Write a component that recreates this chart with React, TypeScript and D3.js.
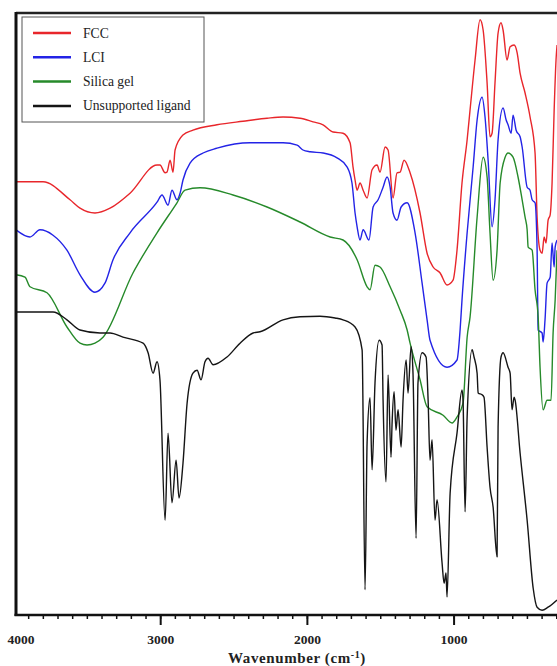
import React from "react";
import * as d3 from "d3";

// [wavenumber (cm-1), transmittance (a.u.)]
const fccData: [number, number][] = [
  [3986, 72.2], [3802, 72.2], [3618, 69.2], [3550, 67.8], [3448, 67.0], [3345, 67.8], [3209, 70.3],
  [3025, 75.0], [3005, 75.0], [2970, 73.7], [2957, 73.8], [2936, 75.8], [2916, 73.8], [2902, 77.5],
  [2848, 80.0], [2780, 80.8], [2616, 81.7], [2439, 82.3], [2275, 82.8], [2166, 83.0], [2050, 82.8],
  [1961, 82.2], [1893, 81.7], [1825, 80.5], [1757, 80.3], [1709, 78.7], [1689, 74.7], [1675, 72.5],
  [1661, 70.8], [1641, 72.0], [1620, 70.8], [1593, 69.5], [1559, 74.2], [1525, 75.0], [1505, 73.8],
  [1470, 78.0], [1450, 77.5], [1416, 69.5], [1389, 73.7], [1368, 73.8], [1341, 75.8], [1300, 73.7],
  [1232, 67.0], [1184, 60.3], [1143, 58.0], [1095, 57.0], [1048, 55.0], [1007, 55.8], [980, 60.8],
  [946, 72.0], [911, 79.2], [891, 84.2], [857, 92.5], [823, 99.2], [802, 97.5], [775, 88.7],
  [755, 79.7], [741, 80.3], [721, 88.7], [700, 97.0], [680, 98.7], [666, 97.5], [639, 92.5],
  [618, 94.7], [591, 95.0], [570, 93.7], [550, 90.3], [516, 87.0], [482, 83.0], [448, 77.0],
  [434, 66.3], [414, 60.8], [400, 60.3], [386, 63.0], [373, 62.0], [359, 65.8], [345, 66.7],
  [332, 72.0], [318, 84.0], [305, 92.5], [298, 95.0],
];

const lciData: [number, number][] = [
  [3986, 64.2], [3891, 63.0], [3823, 64.2], [3734, 63.3], [3639, 60.8], [3550, 56.7], [3448, 53.8],
  [3380, 55.3], [3325, 59.2], [3209, 63.7], [3025, 68.8], [2991, 70.0], [2950, 68.3], [2923, 70.8],
  [2889, 69.2], [2868, 70.3], [2848, 72.5], [2800, 75.3], [2711, 77.0], [2616, 77.8], [2391, 78.7],
  [2166, 78.7], [2070, 78.3], [2030, 77.5], [1982, 77.2], [1893, 77.0], [1798, 76.2], [1730, 74.7],
  [1696, 72.0], [1675, 67.0], [1661, 64.7], [1641, 62.5], [1620, 64.2], [1580, 62.5], [1552, 68.0],
  [1518, 69.2], [1484, 71.3], [1457, 73.0], [1436, 71.3], [1416, 67.0], [1389, 65.8], [1361, 68.0],
  [1320, 68.7], [1266, 63.7], [1218, 55.3], [1184, 49.2], [1164, 45.8], [1048, 41.3], [980, 42.5],
  [959, 47.5], [946, 52.5], [911, 63.7], [870, 74.7], [843, 82.5], [809, 86.3], [789, 83.0],
  [768, 75.8], [741, 64.7], [721, 69.2], [700, 79.2], [666, 84.5], [645, 82.5], [632, 81.7],
  [611, 80.3], [598, 83.3], [577, 80.8], [550, 79.7], [536, 78.0], [502, 71.3], [482, 70.8],
  [468, 69.2], [448, 68.7], [434, 60.8], [427, 47.5], [400, 47.0], [393, 45.5], [380, 49.2],
  [366, 55.3], [345, 56.3], [332, 62.0], [318, 58.0], [311, 61.3], [298, 62.5],
];

const silicaData: [number, number][] = [
  [3986, 56.7], [3925, 56.3], [3891, 54.7], [3775, 53.7], [3639, 48.0], [3550, 45.3], [3502, 45.0],
  [3448, 45.3], [3393, 46.3], [3189, 57.0], [3025, 63.7], [2889, 68.7], [2834, 70.8], [2732, 71.2],
  [2507, 70.0], [2275, 68.0], [2050, 65.5], [1845, 63.0], [1757, 62.5], [1661, 59.2], [1593, 54.7],
  [1573, 54.2], [1539, 58.3], [1505, 58.0], [1436, 54.7], [1368, 50.8], [1320, 47.5], [1300, 45.3],
  [1232, 39.2], [1184, 34.7], [1075, 33.3], [1014, 32.0], [980, 33.0], [939, 35.3], [911, 46.3],
  [891, 49.7], [843, 66.3], [802, 76.3], [775, 73.0], [755, 63.7], [734, 55.8], [707, 60.8],
  [686, 72.0], [652, 76.3], [632, 77.0], [598, 76.3], [564, 73.0], [536, 69.2], [516, 66.3],
  [502, 64.2], [495, 61.3], [468, 60.8], [448, 54.2], [427, 49.7], [414, 41.3], [393, 34.2],
  [366, 35.8], [339, 35.8], [325, 47.0], [311, 52.5], [298, 60.8],
];

const ligandData: [number, number][] = [
  [3986, 50.5], [3734, 50.5], [3639, 49.2], [3550, 47.5], [3414, 47.0], [3345, 47.0], [3257, 46.3],
  [3120, 45.3], [3086, 43.7], [3052, 40.3], [3025, 42.2], [3005, 39.2], [2970, 15.8], [2950, 30.3],
  [2923, 18.7], [2895, 25.8], [2875, 19.5], [2848, 25.3], [2820, 35.3], [2780, 40.3], [2752, 40.8],
  [2725, 39.2], [2698, 42.2], [2677, 42.8], [2643, 41.7], [2548, 43.0], [2459, 45.3], [2370, 47.0],
  [2323, 47.2], [2166, 49.2], [2050, 49.7], [1914, 49.8], [1811, 49.5], [1757, 49.2], [1675, 48.0],
  [1627, 44.2], [1607, 4.2], [1593, 28.7], [1573, 36.2], [1559, 24.2], [1539, 38.7], [1511, 45.8],
  [1491, 45.0], [1484, 35.8], [1464, 22.2], [1450, 40.0], [1430, 26.3], [1423, 31.7], [1409, 37.2],
  [1396, 30.8], [1382, 34.2], [1361, 28.0], [1348, 35.8], [1327, 42.5], [1314, 37.0], [1293, 44.7],
  [1280, 40.3], [1259, 12.8], [1246, 38.7], [1218, 43.7], [1191, 43.0], [1177, 35.8], [1164, 25.8],
  [1150, 29.2], [1130, 15.8], [1116, 19.2], [1082, 8.7], [1068, 5.3], [1055, 7.0], [1048, 3.0],
  [1027, 20.3], [980, 30.3], [946, 37.5], [939, 35.8], [925, 17.2], [911, 33.0], [877, 44.2],
  [864, 43.0], [843, 40.3], [836, 37.0], [809, 36.7], [796, 36.3], [775, 28.0], [755, 21.3],
  [734, 18.0], [707, 9.7], [700, 31.3], [680, 43.0], [666, 43.7], [632, 41.3], [618, 40.3],
  [605, 34.2], [591, 36.3], [584, 35.8], [550, 27.0], [502, 15.8], [461, 4.5], [434, 1.3],
  [400, 0.8], [359, 1.3], [298, 2.5],
];

const seriesNames = ["FCC", "LCI", "Silica gel", "Unsupported ligand"];
const seriesColors = ["#e8262b", "#2323e6", "#268a2a", "#151515"];
const seriesData = [fccData, lciData, silicaData, ligandData];

const majorTicks = [4000, 3000, 2000, 1000];
const minorTicks = d3.range(3900, 299, -100);
const xTitle = "Wavenumber (cm";
const xTitleSup = "-1";

export default function App() {
  const W = 557;
  const H = 666;
  const left = 16;
  const top = 13;
  const bottom = 615;

  const x = d3.scaleLinear().domain([4000, 295]).range([14, 557.5]);
  const y = d3.scaleLinear().domain([0, 100]).range([615, 15]);
  const line = d3
    .line<[number, number]>()
    .x((d) => x(d[0]))
    .y((d) => y(d[1]))
    .curve(d3.curveMonotoneX);

  const font = "'Liberation Serif', 'Times New Roman', serif";

  return (
    <svg
      width={W}
      height={H}
      style={{ position: "absolute", left: 0, top: 0, background: "#fff" }}
    >
      <defs>
        <clipPath id="plotClip">
          <rect x={left} y={top} width={W - left} height={bottom - top} />
        </clipPath>
      </defs>
      <rect x={0} y={0} width={W} height={H} fill="#fff" />

      <g clipPath="url(#plotClip)">
        {seriesData.map((d, i) => (
          <path
            key={seriesNames[i]}
            d={line(d) || ""}
            fill="none"
            stroke={seriesColors[i]}
            strokeWidth={1.4}
            strokeLinejoin="round"
          />
        ))}
      </g>

      {/* frame */}
      <line x1={left} x2={W} y1={top} y2={top} stroke="#222" strokeWidth={2.5} />
      <line x1={left} x2={left} y1={top - 1} y2={bottom + 1} stroke="#111" strokeWidth={3} />
      <line x1={left - 1.5} x2={W} y1={bottom} y2={bottom} stroke="#111" strokeWidth={2.5} />

      {/* ticks */}
      {minorTicks.map((t) => (
        <line key={"m" + t} x1={x(t)} x2={x(t)} y1={bottom} y2={bottom + 4} stroke="#111" strokeWidth={1.5} />
      ))}
      {majorTicks.slice(1).map((t) => (
        <line key={"M" + t} x1={x(t)} x2={x(t)} y1={bottom} y2={bottom + 10} stroke="#111" strokeWidth={2} />
      ))}
      {majorTicks.map((t, i) => (
        <text
          key={"l" + t}
          x={i === 0 ? x(t) + 7 : x(t)}
          y={644}
          textAnchor="middle"
          fontFamily={font}
          fontWeight="bold"
          fontSize={13.5}
          fill="#222"
        >
          {t}
        </text>
      ))}
      <text
        x={297}
        y={663}
        textAnchor="middle"
        fontFamily={font}
        fontWeight="bold"
        fontSize={15}
        letterSpacing={0.6}
        fill="#222"
      >
        {xTitle}
        <tspan fontSize={10} dy={-5}>{xTitleSup}</tspan>
        <tspan dy={5}>)</tspan>
      </text>

      {/* legend */}
      <rect x={22} y={17} width={182} height={105} fill="#fff" stroke="#555" strokeWidth={1} />
      {seriesNames.map((name, i) => {
        const ly = 33 + i * 24.3;
        return (
          <g key={"lg" + name}>
            <line x1={33} x2={71} y1={ly} y2={ly} stroke={seriesColors[i]} strokeWidth={2.5} />
            <text x={83} y={ly + 4.5} fontFamily={font} fontSize={13.6} fill="#222">
              {name}
            </text>
          </g>
        );
      })}
    </svg>
  );
}
